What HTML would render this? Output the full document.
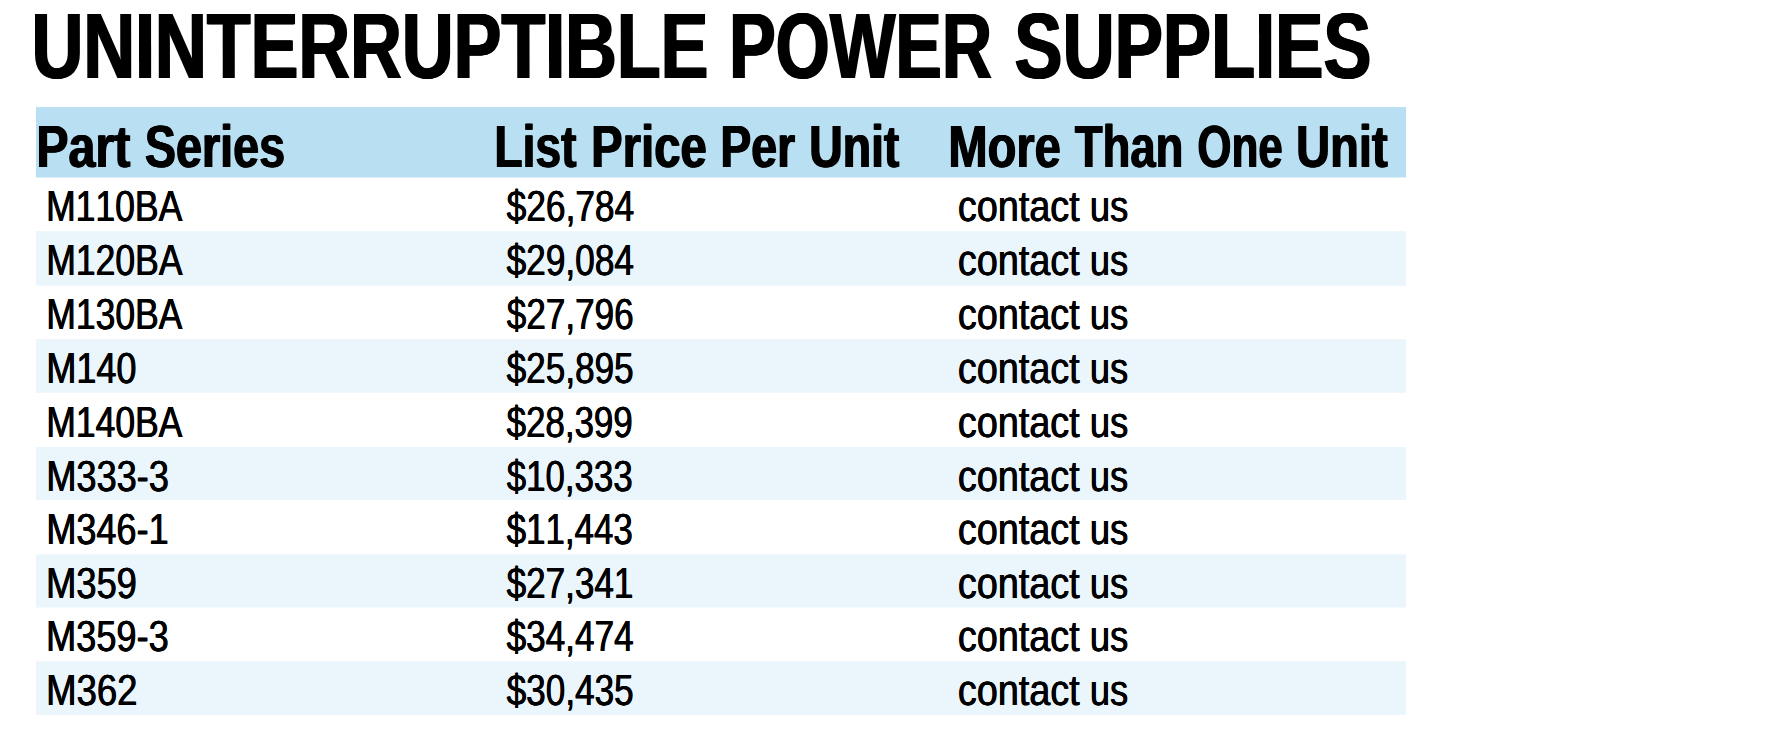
<!DOCTYPE html>
<html lang="en"><head><meta charset="utf-8"><title>Uninterruptible Power Supplies</title>
<style>
html,body{margin:0;padding:0;background:#fff;overflow:hidden}
body{position:relative;width:1771px;height:752px;font-family:"Liberation Sans",sans-serif;color:#000}
svg{position:absolute;left:0;top:0;display:block}
h1,.r,.hd{position:absolute;left:0;top:0;margin:0;padding:0;width:1771px;height:0;font-weight:inherit;font-size:inherit}
span{position:absolute;top:0;white-space:nowrap;line-height:1;transform-origin:0 0;display:block}
h1 span{font-weight:700;font-size:93.2px;text-shadow:1.2px 0 0 #000,-1.2px 0 0 #000;}
.hd span{font-weight:700;font-size:59.6px;text-shadow:0.85px 0 0 #000,-0.85px 0 0 #000;}
.r span{font-weight:400;font-size:43.5px;font-kerning:none;text-shadow:0.45px 0 0 #000,-0.45px 0 0 #000;}
</style></head><body>
<svg width="1771" height="752" viewBox="0 0 1771 752">
<rect x="36" y="107.1" width="1370.1" height="70.4" fill="#b9e0f2"/>
<rect x="36" y="231.20" width="1370.1" height="54.44" fill="#eaf5fc"/>
<rect x="36" y="339.24" width="1370.1" height="53.52" fill="#eaf5fc"/>
<rect x="36" y="446.95" width="1370.1" height="52.95" fill="#eaf5fc"/>
<rect x="36" y="554.40" width="1370.1" height="53.10" fill="#eaf5fc"/>
<rect x="36" y="661.30" width="1370.1" height="53.60" fill="#eaf5fc"/>
</svg>
<h1><span style="left:31px;top:0px;transform:translate(0.55px,0.00px) skewX(0.05deg) scaleX(0.7691)">UNINTERRUPTIBLE</span> <span style="left:729px;top:0px;transform:translate(0.18px,0.00px) skewX(0.05deg) scaleX(0.7467)">POWER</span> <span style="left:1014px;top:0px;transform:translate(0.36px,0.00px) skewX(0.05deg) scaleX(0.7749)">SUPPLIES</span></h1>
<div class="hd"><span style="left:36px;top:117px;transform:translate(0.28px,0.00px) skewX(0.05deg) scaleX(0.8105)">Part</span> <span style="left:144px;top:117px;transform:translate(0.83px,0.00px) skewX(0.05deg) scaleX(0.7839)">Series</span> <span style="left:494px;top:117px;transform:translate(0.27px,0.00px) skewX(0.05deg) scaleX(0.7762)">List</span> <span style="left:591px;top:117px;transform:translate(0.14px,0.00px) skewX(0.05deg) scaleX(0.7928)">Price</span> <span style="left:720px;top:117px;transform:translate(0.31px,0.00px) skewX(0.05deg) scaleX(0.7781)">Per</span> <span style="left:809px;top:117px;transform:translate(0.18px,0.00px) skewX(0.05deg) scaleX(0.7785)">Unit</span> <span style="left:948px;top:117px;transform:translate(0.27px,0.00px) skewX(0.05deg) scaleX(0.7908)">More</span> <span style="left:1074px;top:117px;transform:translate(0.89px,0.00px) skewX(0.05deg) scaleX(0.7615)">Than</span> <span style="left:1197px;top:117px;transform:translate(0.40px,0.00px) skewX(0.05deg) scaleX(0.7354)">One</span> <span style="left:1296px;top:117px;transform:translate(0.03px,0.00px) skewX(0.05deg) scaleX(0.7910)">Unit</span></div>
<div class="r"><span style="left:46px;top:185px;transform:translate(0.10px,0.00px) skewX(0.05deg) scaleX(0.8166)">M110BA</span> <span style="left:506px;top:185px;transform:translate(0.65px,0.00px) skewX(0.05deg) scaleX(0.8109)">$26,784</span> <span style="left:957px;top:185px;transform:translate(0.90px,0.00px) skewX(0.05deg) scaleX(0.8676)">contact</span> <span style="left:1089px;top:185px;transform:translate(0.81px,0.00px) skewX(0.05deg) scaleX(0.8363)">us</span></div>
<div class="r"><span style="left:46px;top:239px;transform:translate(0.26px,0.00px) skewX(0.05deg) scaleX(0.8162)">M120BA</span> <span style="left:506px;top:239px;transform:translate(0.53px,0.00px) skewX(0.05deg) scaleX(0.8103)">$29,084</span> <span style="left:957px;top:239px;transform:translate(0.93px,0.00px) skewX(0.05deg) scaleX(0.8675)">contact</span> <span style="left:1089px;top:239px;transform:translate(0.88px,0.00px) skewX(0.05deg) scaleX(0.8305)">us</span></div>
<div class="r"><span style="left:46px;top:293px;transform:translate(0.31px,0.00px) skewX(0.05deg) scaleX(0.8155)">M130BA</span> <span style="left:506px;top:293px;transform:translate(0.73px,0.00px) skewX(0.05deg) scaleX(0.8071)">$27,796</span> <span style="left:957px;top:293px;transform:translate(0.90px,0.00px) skewX(0.05deg) scaleX(0.8676)">contact</span> <span style="left:1089px;top:293px;transform:translate(0.81px,0.00px) skewX(0.05deg) scaleX(0.8363)">us</span></div>
<div class="r"><span style="left:46px;top:347px;transform:translate(0.25px,0.00px) skewX(0.05deg) scaleX(0.8295)">M140</span> <span style="left:506px;top:347px;transform:translate(0.66px,0.00px) skewX(0.05deg) scaleX(0.8073)">$25,895</span> <span style="left:957px;top:347px;transform:translate(0.93px,0.00px) skewX(0.05deg) scaleX(0.8675)">contact</span> <span style="left:1089px;top:347px;transform:translate(0.88px,0.00px) skewX(0.05deg) scaleX(0.8305)">us</span></div>
<div class="r"><span style="left:46px;top:401px;transform:translate(0.31px,0.00px) skewX(0.05deg) scaleX(0.8155)">M140BA</span> <span style="left:506px;top:401px;transform:translate(0.65px,0.00px) skewX(0.05deg) scaleX(0.8019)">$28,399</span> <span style="left:957px;top:401px;transform:translate(0.90px,0.00px) skewX(0.05deg) scaleX(0.8676)">contact</span> <span style="left:1089px;top:401px;transform:translate(0.81px,0.00px) skewX(0.05deg) scaleX(0.8363)">us</span></div>
<div class="r"><span style="left:46px;top:455px;transform:translate(0.29px,0.00px) skewX(0.05deg) scaleX(0.8310)">M333-3</span> <span style="left:506px;top:455px;transform:translate(0.73px,0.00px) skewX(0.05deg) scaleX(0.8006)">$10,333</span> <span style="left:957px;top:455px;transform:translate(0.93px,0.00px) skewX(0.05deg) scaleX(0.8675)">contact</span> <span style="left:1089px;top:455px;transform:translate(0.88px,0.00px) skewX(0.05deg) scaleX(0.8305)">us</span></div>
<div class="r"><span style="left:46px;top:508px;transform:translate(0.23px,0.00px) skewX(0.05deg) scaleX(0.8300)">M346-1</span> <span style="left:506px;top:508px;transform:translate(0.67px,0.00px) skewX(0.05deg) scaleX(0.8019)">$11,443</span> <span style="left:957px;top:508px;transform:translate(0.90px,0.00px) skewX(0.05deg) scaleX(0.8676)">contact</span> <span style="left:1089px;top:508px;transform:translate(0.81px,0.00px) skewX(0.05deg) scaleX(0.8363)">us</span></div>
<div class="r"><span style="left:46px;top:562px;transform:translate(0.03px,0.00px) skewX(0.05deg) scaleX(0.8348)">M359</span> <span style="left:506px;top:562px;transform:translate(0.68px,0.00px) skewX(0.05deg) scaleX(0.8060)">$27,341</span> <span style="left:957px;top:562px;transform:translate(0.93px,0.00px) skewX(0.05deg) scaleX(0.8675)">contact</span> <span style="left:1089px;top:562px;transform:translate(0.88px,0.00px) skewX(0.05deg) scaleX(0.8305)">us</span></div>
<div class="r"><span style="left:46px;top:615px;transform:translate(0.08px,0.00px) skewX(0.05deg) scaleX(0.8315)">M359-3</span> <span style="left:506px;top:615px;transform:translate(0.53px,0.00px) skewX(0.05deg) scaleX(0.8083)">$34,474</span> <span style="left:957px;top:615px;transform:translate(0.90px,0.00px) skewX(0.05deg) scaleX(0.8676)">contact</span> <span style="left:1089px;top:615px;transform:translate(0.81px,0.00px) skewX(0.05deg) scaleX(0.8363)">us</span></div>
<div class="r"><span style="left:46px;top:669px;transform:translate(0.20px,0.00px) skewX(0.05deg) scaleX(0.8387)">M362</span> <span style="left:506px;top:669px;transform:translate(0.66px,0.00px) skewX(0.05deg) scaleX(0.8073)">$30,435</span> <span style="left:957px;top:669px;transform:translate(0.93px,0.00px) skewX(0.05deg) scaleX(0.8675)">contact</span> <span style="left:1089px;top:669px;transform:translate(0.88px,0.00px) skewX(0.05deg) scaleX(0.8305)">us</span></div>
</body></html>
